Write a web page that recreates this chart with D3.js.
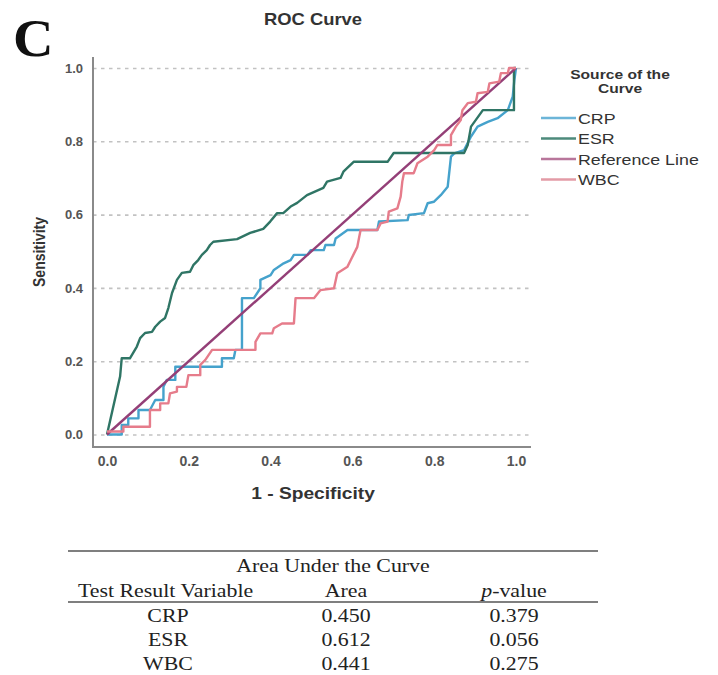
<!DOCTYPE html>
<html lang="en">
<head>
<meta charset="UTF-8">
<title>ROC Curve</title>
<style>
    body { margin: 0; background: #fff; }
    .chart text { font-family: "Liberation Sans", Arial, sans-serif; fill: #333; }
    .tick text { font-size: 13px; font-weight: bold; fill: #555; }
    .grid line { stroke: #c2c2c2; stroke-width: 1.6; stroke-dasharray: 3.5,4.5; }
    .curve { fill: none; stroke-width: 2.4; stroke-linejoin: round; }
    .tbl text { font-family: "Liberation Serif", "Times New Roman", serif; font-size: 19px; fill: #222; }
</style>
</head>
<body>
<svg class="chart" width="718" height="675"></svg>
<script src="https://cdn.jsdelivr.net/npm/d3@7"></script>
<script>

    var yTicks = [0, 0.2, 0.4, 0.6, 0.8, 1.0];
    var xTicks = [0, 0.2, 0.4, 0.6, 0.8, 1.0];

    var crp = [[0,0],[0.036,0],[0.036,0.026],[0.052,0.026],[0.052,0.044],[0.077,0.044],[0.077,0.067],[0.105,0.067],
        [0.118,0.094],[0.138,0.094],[0.138,0.13],[0.146,0.149],[0.167,0.149],[0.167,0.185],[0.281,0.185],[0.281,0.208],
        [0.31,0.208],[0.314,0.231],[0.33,0.231],[0.33,0.372],[0.359,0.372],[0.375,0.399],[0.375,0.422],[0.4,0.435],
        [0.408,0.449],[0.432,0.467],[0.449,0.476],[0.457,0.49],[0.49,0.49],[0.498,0.503],[0.53,0.503],[0.534,0.517],
        [0.555,0.517],[0.559,0.535],[0.588,0.558],[0.661,0.558],[0.665,0.581],[0.735,0.585],[0.738,0.599],[0.775,0.604],
        [0.784,0.631],[0.799,0.635],[0.816,0.653],[0.833,0.676],[0.841,0.758],[0.849,0.767],[0.873,0.776],[0.89,0.813],
        [0.906,0.84],[0.931,0.853],[0.955,0.863],[0.98,0.885],[0.992,0.922],[0.996,0.967],[1,1]];

    var esr = [[0,0],[0.032,0.158],[0.036,0.208],[0.056,0.208],[0.073,0.24],[0.081,0.263],[0.093,0.277],[0.11,0.28],
        [0.118,0.294],[0.13,0.308],[0.142,0.318],[0.15,0.345],[0.159,0.386],[0.171,0.422],[0.183,0.441],[0.203,0.444],
        [0.211,0.462],[0.223,0.476],[0.232,0.49],[0.244,0.503],[0.252,0.517],[0.26,0.526],[0.318,0.533],[0.35,0.55],
        [0.382,0.561],[0.399,0.581],[0.416,0.604],[0.431,0.604],[0.449,0.622],[0.465,0.632],[0.489,0.653],[0.529,0.673],
        [0.538,0.69],[0.571,0.7],[0.578,0.717],[0.603,0.744],[0.686,0.744],[0.701,0.768],[0.873,0.768],[0.882,0.79],
        [0.89,0.84],[0.919,0.885],[0.995,0.885],[0.995,1],[1,1]];

    var wbc = [[0,0.008],[0.04,0.008],[0.04,0.021],[0.105,0.021],[0.105,0.067],[0.13,0.067],[0.13,0.085],[0.15,0.085],
        [0.154,0.112],[0.171,0.117],[0.171,0.13],[0.194,0.13],[0.199,0.162],[0.228,0.162],[0.228,0.19],[0.24,0.203],
        [0.257,0.231],[0.363,0.231],[0.363,0.253],[0.375,0.276],[0.404,0.276],[0.408,0.29],[0.428,0.303],[0.457,0.303],
        [0.461,0.372],[0.506,0.372],[0.522,0.394],[0.555,0.399],[0.563,0.44],[0.588,0.458],[0.596,0.476],[0.612,0.512],
        [0.62,0.558],[0.661,0.558],[0.669,0.576],[0.686,0.581],[0.689,0.608],[0.71,0.617],[0.718,0.649],[0.722,0.69],
        [0.726,0.713],[0.75,0.713],[0.759,0.74],[0.784,0.758],[0.8,0.776],[0.808,0.79],[0.841,0.79],[0.841,0.817],
        [0.853,0.84],[0.865,0.858],[0.869,0.885],[0.882,0.904],[0.902,0.908],[0.906,0.931],[0.931,0.935],[0.935,0.958],
        [0.959,0.963],[0.963,0.986],[0.98,0.986],[0.983,1],[1,1]];

    var refLine = [[0,0],[1,1]];

    var seriesNames = ["CRP", "ESR", "Reference Line", "WBC"];
    var seriesData = [crp, esr, refLine, wbc];
    var plotColors = ["#45a2cc", "#2f7565", "#943f77", "#e67c8b"];
    var legendColors = ["#6cb5d8", "#4d8a7b", "#b8769b", "#e39ba6"];

    var aucVars = ["CRP", "ESR", "WBC"];
    var aucArea = ["0.450", "0.612", "0.441"];
    var aucP = ["0.379", "0.056", "0.275"];

    var svg = d3.select(".chart");

    var x = d3.scaleLinear().domain([0, 1]).range([107, 516]);
    var y = d3.scaleLinear().domain([0, 1]).range([434.5, 68]);

    // the picture is a little wider than tall, so horizontal text is stretched
    function stretched(parent, tx, ty, sx) {
        return parent.append("text")
            .attr("transform", "translate(" + tx + "," + ty + ") scale(" + sx + ",1)");
    }

    // dashed grid
    svg.append("g")
        .attr("class", "grid")
        .attr("transform", "translate(93,0)")
        .call(d3.axisLeft(y).tickValues(yTicks).tickSize(-438).tickFormat(""))
        .call(function (g) { g.select(".domain").remove(); });

    // axis frame lines
    svg.append("line").attr("x1", 93).attr("x2", 93).attr("y1", 57).attr("y2", 447)
        .attr("stroke", "#8a8a8a").attr("stroke-width", 2);
    svg.append("line").attr("x1", 92).attr("x2", 531).attr("y1", 447).attr("y2", 447)
        .attr("stroke", "#8a8a8a").attr("stroke-width", 2);

    svg.append("g")
        .attr("transform", "translate(86,0)")
        .call(d3.axisLeft(y).tickValues(yTicks).tickSize(0).tickFormat(d3.format(".1f")))
        .call(function (g) { g.select(".domain").remove(); });

    svg.append("g")
        .attr("transform", "translate(0,453)")
        .call(d3.axisBottom(x).tickValues(xTicks).tickSize(0).tickFormat(d3.format(".1f")))
        .call(function (g) {
            g.select(".domain").remove();
            g.selectAll("text").style("font-size", "14px");
        });

    var line = d3.line()
        .x(function (d) { return x(d[0]); })
        .y(function (d) { return y(d[1]); });

    svg.append("g").selectAll("path")
        .data(seriesData)
        .enter()
        .append("path")
        .attr("class", "curve")
        .attr("stroke", function (d, i) { return plotColors[i]; })
        .attr("d", line);

    // titles
    stretched(svg, 13, 56, 1.08)
        .style("font-family", "'Liberation Serif', serif").style("font-weight", "bold")
        .style("font-size", "52px").style("fill", "#111").text("C");

    stretched(svg, 313, 25, 1.15).attr("text-anchor", "middle")
        .style("font-weight", "bold").style("font-size", "16px").text("ROC Curve");

    stretched(svg, 313, 499, 1.2).attr("text-anchor", "middle")
        .style("font-weight", "bold").style("font-size", "16px").text("1 - Specificity");

    svg.append("text").attr("transform", "translate(45,252) rotate(-90) scale(1,1.2)").attr("text-anchor", "middle")
        .style("font-weight", "bold").style("font-size", "14px").text("Sensitivity");

    // legend
    var legend = svg.append("g");
    stretched(legend, 620, 79, 1.3).attr("text-anchor", "middle")
        .style("font-weight", "bold").style("font-size", "12px").text("Source of the");
    stretched(legend, 620, 93, 1.3).attr("text-anchor", "middle")
        .style("font-weight", "bold").style("font-size", "12px").text("Curve");

    var item = legend.selectAll(".item")
        .data(seriesNames)
        .enter()
        .append("g")
        .attr("class", "item")
        .attr("transform", function (d, i) { return "translate(0," + (118 + i * 20.5) + ")"; });
    item.append("line").attr("x1", 541).attr("x2", 576)
        .attr("stroke", function (d, i) { return legendColors[i]; }).attr("stroke-width", 2.4);
    item.append("text").attr("transform", "translate(578,0) scale(1.15,1)").attr("dy", "0.36em")
        .style("font-size", "15.5px").text(function (d) { return d; });

    // AUC table
    var tbl = svg.append("g").attr("class", "tbl");
    tbl.append("line").attr("x1", 68).attr("x2", 598).attr("y1", 551).attr("y2", 551)
        .attr("stroke", "#555").attr("stroke-width", 1.3);
    tbl.append("line").attr("x1", 68).attr("x2", 598).attr("y1", 602).attr("y2", 602)
        .attr("stroke", "#555").attr("stroke-width", 1.3);
    stretched(tbl, 333, 572, 1.15).attr("text-anchor", "middle").text("Area Under the Curve");
    stretched(tbl, 78, 597, 1.15).text("Test Result Variable");
    stretched(tbl, 346, 597, 1.15).attr("text-anchor", "middle").text("Area");
    var ph = stretched(tbl, 514, 597, 1.15).attr("text-anchor", "middle");
    ph.append("tspan").style("font-style", "italic").text("p");
    ph.append("tspan").text("-value");

    var rows = tbl.selectAll(".row")
        .data(aucVars)
        .enter()
        .append("g")
        .attr("class", "row")
        .attr("transform", function (d, i) { return "translate(0," + (622 + i * 24) + ")"; });
    rows.append("text").attr("transform", "translate(168,0) scale(1.15,1)").attr("text-anchor", "middle")
        .text(function (d) { return d; });
    rows.append("text").attr("transform", "translate(346,0) scale(1.15,1)").attr("text-anchor", "middle")
        .text(function (d, i) { return aucArea[i]; });
    rows.append("text").attr("transform", "translate(514,0) scale(1.15,1)").attr("text-anchor", "middle")
        .text(function (d, i) { return aucP[i]; });

</script>
</body>
</html>
